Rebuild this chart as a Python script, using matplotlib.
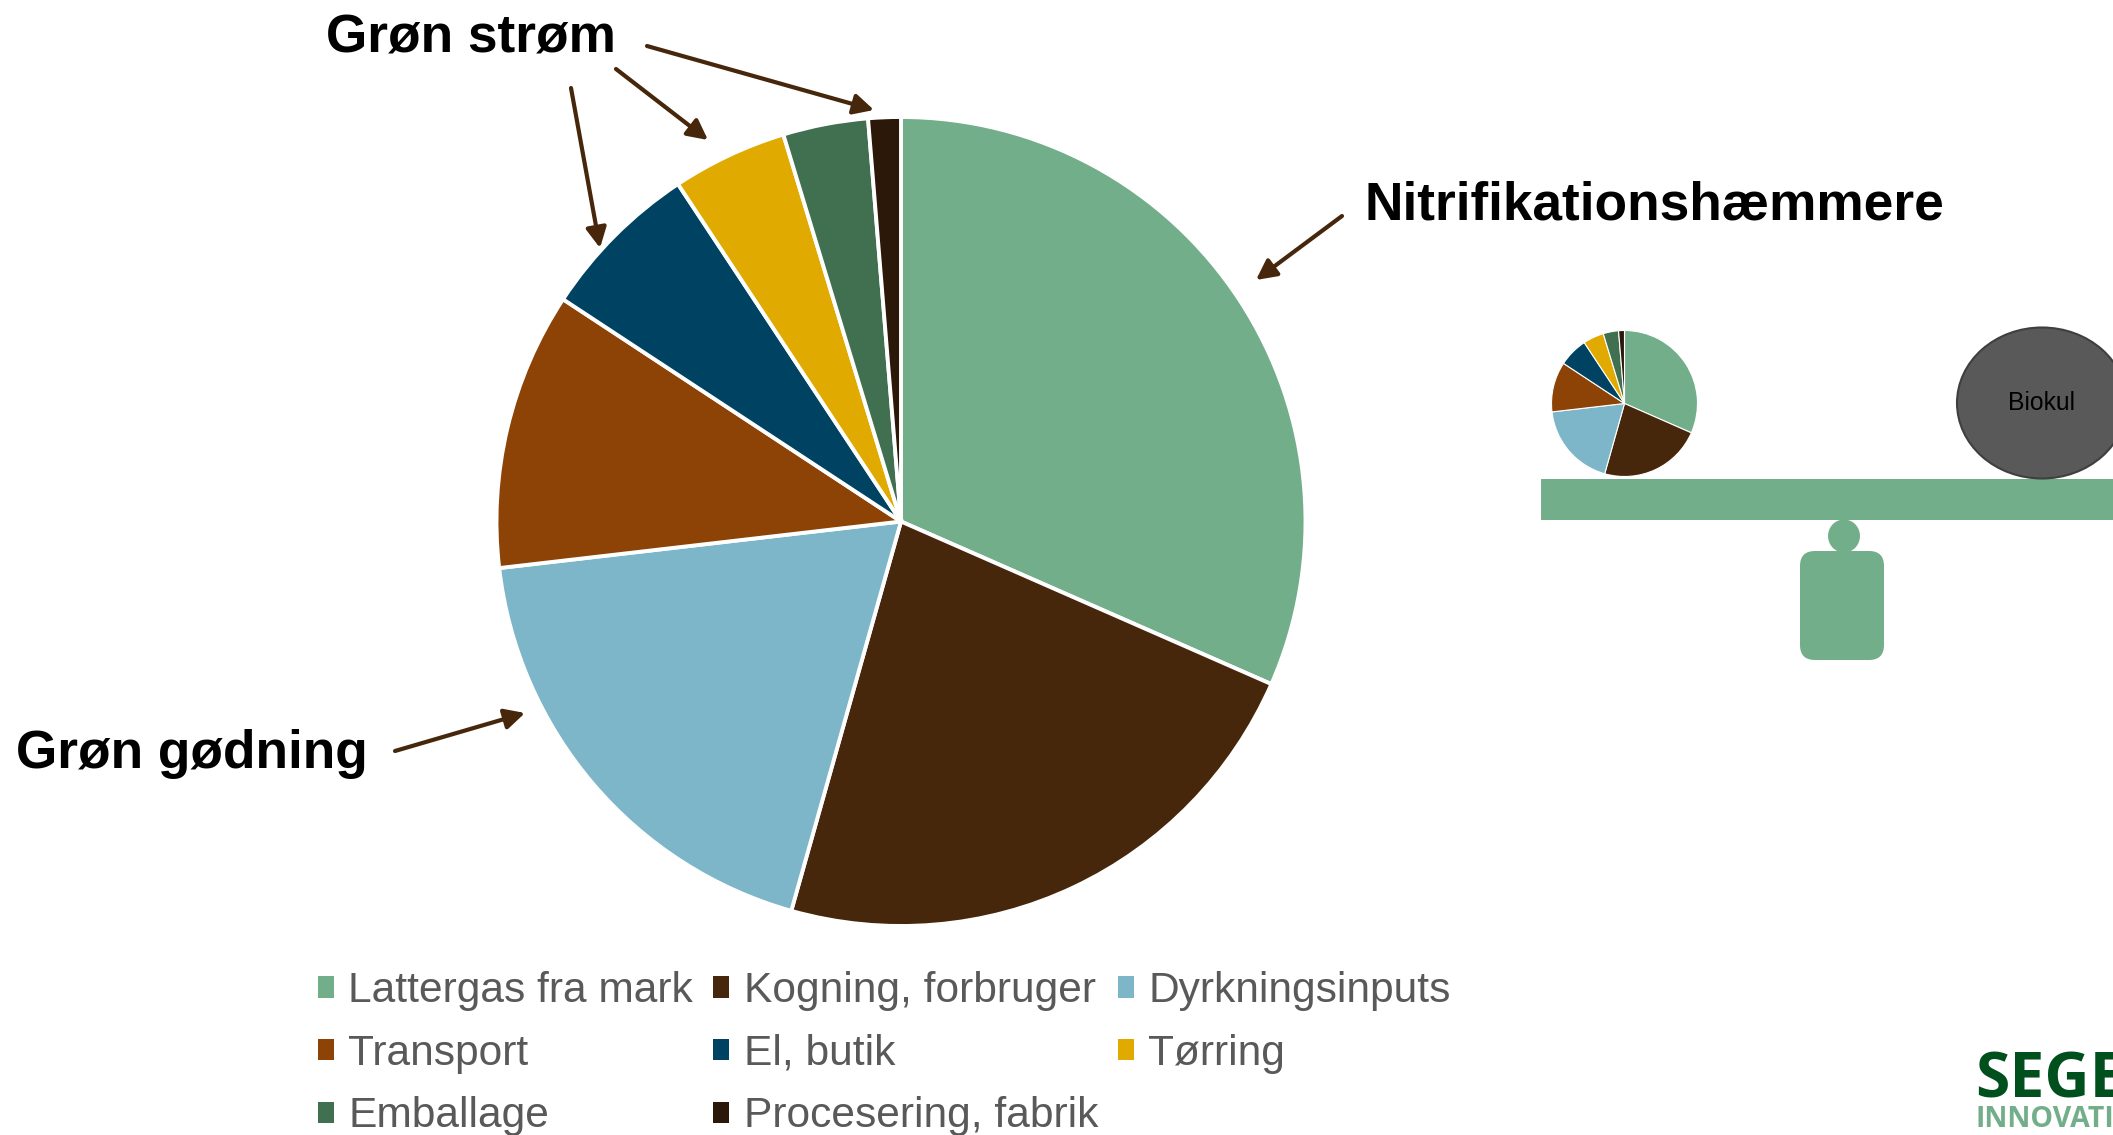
import matplotlib
matplotlib.use("Agg")
import matplotlib.pyplot as plt
from matplotlib.patches import Ellipse, FancyBboxPatch, Patch, Rectangle

W, H = 2113, 1135

categories = ["Lattergas fra mark", "Kogning, forbruger", "Dyrkningsinputs", "Transport",
              "El, butik", "Tørring", "Emballage", "Procesering, fabrik"]
shares = [31.6, 22.8, 18.8, 11.1, 6.45, 4.6, 3.4, 1.3]
colors = ["#73AE8A", "#46270C", "#7CB6C8", "#8C4305", "#004262", "#E0AA00", "#417051", "#2C1808"]

plt.rcParams["font.family"] = ["Liberation Sans", "DejaVu Sans"]
fig = plt.figure(figsize=(W / 100, H / 100), dpi=100, facecolor="white")


def pie_axes(cx, cy, r, lw):
    pad = r * 1.02
    ax = fig.add_axes([(cx - pad) / W, 1 - (cy + pad) / H, 2 * pad / W, 2 * pad / H])
    wedges, _ = ax.pie(shares, colors=colors, startangle=90, counterclock=False,
                       wedgeprops=dict(edgecolor="white", linewidth=lw))
    ax.set_xlim(-1.02, 1.02)
    ax.set_ylim(-1.02, 1.02)
    return ax, wedges


main, wedges = pie_axes(901, 521.5, 404.5, 2.8)
small, _ = pie_axes(1624.5, 403.5, 73, 0.8)

ov = fig.add_axes([0, 0, 1, 1], zorder=5)
ov.set_xlim(0, W)
ov.set_ylim(H, 0)
ov.axis("off")

# Legend, filled column by column so that it reads row by row
order = [0, 3, 6, 1, 4, 7, 2, 5]
handles = [Patch(facecolor=colors[i], edgecolor="none") for i in order]
labels = [categories[i] for i in order]
ov.legend(handles, labels, ncols=3, loc="upper left",
          bbox_to_anchor=(318, 971), bbox_transform=ov.transData,
          frameon=False, fontsize=30.6, labelcolor="#595959",
          borderpad=0, borderaxespad=0, handlelength=0.38, handleheight=0.4,
          handletextpad=0.33, columnspacing=0.48, labelspacing=0.535)

# Callout labels
for x, y, s in [(326, 53, "Grøn strøm"), (1364, 220, "Nitrifikationshæmmere"), (16, 768, "Grøn gødning")]:
    ov.text(x, y, s, fontsize=38.3, fontweight="bold", color="black", ha="left", va="baseline")

# Arrows
arrows = [((647, 46), (874, 110)), ((616, 69), (708, 140)), ((571, 88), (600, 248)),
          ((1342, 216), (1256, 280)), ((395, 751), (525, 713))]
for a, b in arrows:
    ov.annotate("", xy=b, xytext=a,
                arrowprops=dict(arrowstyle="-|>,head_length=0.55,head_width=0.28", color="#46270C",
                                lw=3.0, shrinkA=0, shrinkB=0, mutation_scale=22))

# Balance
green = "#73AE8A"
ov.add_patch(Rectangle((1541, 479), W - 1541, 41, facecolor=green, edgecolor="none"))
ov.add_patch(Ellipse((1844, 536), 32, 33, facecolor=green, edgecolor="none"))
ov.add_patch(FancyBboxPatch((1815, 566), 54, 79, boxstyle="round,pad=15,rounding_size=15",
                            facecolor=green, edgecolor="none"))
ov.add_patch(Ellipse((2042, 403), 170, 151, facecolor="#595959", edgecolor="#3F3F3F", lw=1.5))
ov.text(2042, 403.5, "Biokul", fontsize=17.8, color="black", ha="center", va="center")

# Logo, cut off by the right edge as in the source
logo_font = ["Open Sans", "Liberation Sans"]
ov.text(1975, 1097, "SEGES", fontsize=45, fontweight="bold", color="#00501E",
        family=logo_font, ha="left", va="baseline")
ov.text(1975, 1127, "INNOVATION", fontsize=20.5, fontweight="bold", color=green,
        family=logo_font, ha="left", va="baseline")

fig.savefig("out.png", dpi=100, facecolor="white")
